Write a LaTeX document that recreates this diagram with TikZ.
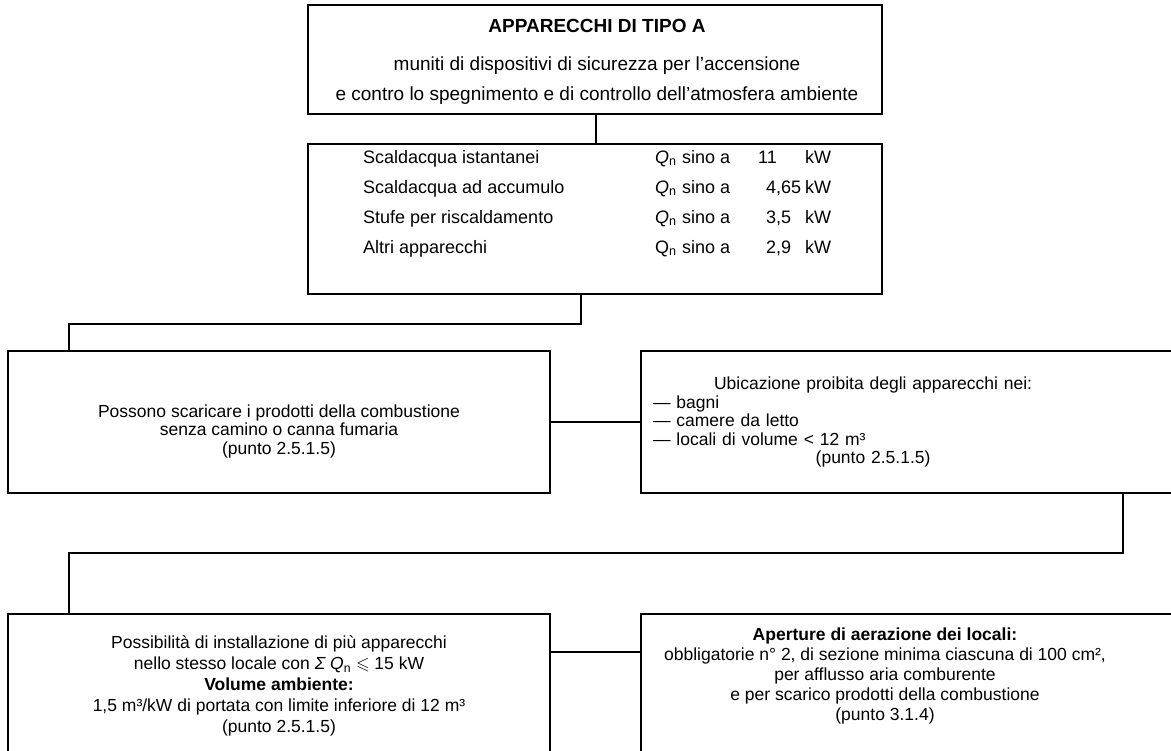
\documentclass[tikz,border=0pt]{standalone}
\usepackage{fontspec}
\setmainfont{Liberation Sans}
\usepackage{amssymb}
\usetikzlibrary{positioning}
\setlength{\parindent}{0pt}
\tikzset{
  panel/.style={
    rectangle, draw, line width=1.8pt,
    inner sep=0pt, align=center,
    font=\fontsize{17.5}{23}\selectfont,
  },
  wire/.style={
    draw, line width=1.8pt,
  },
  words/.style={
    inner sep=0pt, font=\fontsize{17.5}{20}\selectfont,
  }
}

\begin{document}
\begin{tikzpicture}[x=1pt,y=-1pt]
\useasboundingbox (0,0) rectangle (1171,751);
% boxes
\node [panel, minimum width=574pt, minimum height=109pt] (tipoA) at (595,59.5) {};
\node [panel, minimum width=574pt, minimum height=150pt, below=28pt of tipoA] (elenco) {};
\node [panel, minimum width=542pt, minimum height=142pt] (scarico) at (279,422) {};
\node [panel, minimum width=534pt, minimum height=142pt, right=89pt of scarico] (divieto) {};
\node [panel, minimum width=542pt, minimum height=145pt, below=119pt of scarico,
  font=\fontsize{17.5}{21}\selectfont] (volume)
  {Possibilità di installazione di più apparecchi\\
   nello stesso locale con \textit{Σ Q}\textsubscript{n} $\leqslant$ 15 kW\\
   \textbf{Volume ambiente:}\\
   1,5 m³/kW di portata con limite inferiore di 12 m³\\
   (punto 2.5.1.5)};
\node [panel, minimum width=534pt, minimum height=145pt, right=89pt of volume] (aperture) {};
% texts
\node [words, align=center, font=\fontsize{19}{30}\selectfont] (tipoA-t) at (597,62)
  {\textbf{APPARECCHI DI TIPO A}\\[8pt]
   muniti di dispositivi di sicurezza per l'accensione\\
   e contro lo spegnimento e di controllo dell'atmosfera ambiente};
\node [words, anchor=north west, font=\fontsize{18}{30}\selectfont] (elenco-t) at (363,142)
  {\begin{tabular}{@{}p{292pt}@{}p{27pt}@{}p{76pt}@{}p{47pt}@{}l@{}}
   Scaldacqua istantanei & \textit{Q}\textsubscript{n} & sino a & 11 & kW\\
   Scaldacqua ad accumulo & \textit{Q}\textsubscript{n} & sino a & \hspace*{8pt}4,65 & kW\\
   Stufe per riscaldamento & \textit{Q}\textsubscript{n} & sino a & \hspace*{8pt}3,5 & kW\\
   Altri apparecchi & Q\textsubscript{n} & sino a & \hspace*{8pt}2,9 & kW
   \end{tabular}};
\node [words, align=center, font=\fontsize{17.5}{18.5}\selectfont] (scarico-t) at (279,431)
  {Possono scaricare i prodotti della combustione\\
   senza camino o canna fumaria\\
   (punto 2.5.1.5)};
\node [words, text width=440pt, anchor=west, font=\fontsize{17.5}{18.5}\selectfont] (divieto-t)
  at ([xshift=13pt]divieto.west)
  {{\centering Ubicazione proibita degli apparecchi nei:\par}
   — bagni\par
   — camere da letto\par
   — locali di volume < 12 m³\par
   {\centering (punto 2.5.1.5)\par}};
\node [words, align=center] (aperture-t) at (885,676)
  {\textbf{Aperture di aerazione dei locali:}\\
   obbligatorie n° 2, di sezione minima ciascuna di 100 cm²,\\
   per afflusso aria comburente\\
   e per scarico prodotti della combustione\\
   (punto 3.1.4)};
% connectors
\draw [wire] ([xshift=1pt]tipoA.south) -- ([xshift=1pt]elenco.north);
\draw [wire] ([xshift=-14pt]elenco.south) -- ++(0,29) -| ([xshift=-210pt]scarico.north);
\draw [wire] (scarico) -- (divieto);
\draw [wire] ([xshift=215pt]divieto.south) -- ++(0,59) -| ([xshift=-210pt]volume.north);
\draw [wire] ([yshift=34.5pt]volume.east) -- ([yshift=34.5pt]aperture.west);
\end{tikzpicture}
\end{document}
